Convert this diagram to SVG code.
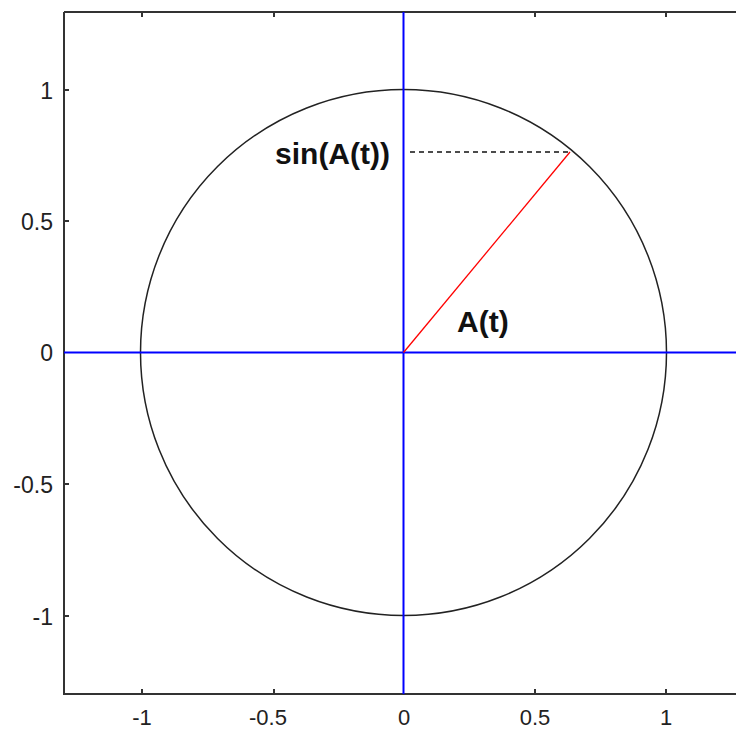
<svg xmlns="http://www.w3.org/2000/svg" width="736" height="731" viewBox="0 0 736 731">
<style>
.tick{font-family:"Liberation Sans",Arial,sans-serif;font-size:23px;fill:#222}
.xt{font-size:22px}
.lab{font-family:"Liberation Sans",Arial,sans-serif;font-size:30px;font-weight:bold;fill:#111}
.ax{stroke:#333;stroke-width:2;fill:none}
</style>
<rect width="736" height="731" fill="#fff"/>
<g id="frame">
<path class="ax" d="M64,12 H737 M64,12 V694 H737"/>
<path class="ax" stroke-width="1.5" d="M142,694 v-5 M274,694 v-5 M535,694 v-5 M666,694 v-5 M142,12 v5 M274,12 v5 M535,12 v5 M666,12 v5 M64,90 h5 M64,221 h5 M64,484 h5 M64,616 h5"/>
</g>
<g id="ticklabels">
<text class="tick xt" x="142" y="725" text-anchor="middle">-1</text>
<text class="tick xt" x="268" y="725" text-anchor="middle">-0.5</text>
<text class="tick xt" x="404" y="725" text-anchor="middle">0</text>
<text class="tick xt" x="535" y="725" text-anchor="middle">0.5</text>
<text class="tick xt" x="666" y="725" text-anchor="middle">1</text>
<text class="tick" x="53" y="99" text-anchor="end">1</text>
<text class="tick" x="53" y="230" text-anchor="end">0.5</text>
<text class="tick" x="53" y="361" text-anchor="end">0</text>
<text class="tick" x="53" y="493" text-anchor="end">-0.5</text>
<text class="tick" x="53" y="625" text-anchor="end">-1</text>
</g>
<g id="circle">
<circle cx="403.5" cy="352.5" r="263" fill="none" stroke="#222" stroke-width="1.5"/>
</g>
<g id="connectors">
<line x1="64" y1="352.5" x2="736" y2="352.5" stroke="#0000ff" stroke-width="2"/>
<line x1="403.5" y1="12" x2="403.5" y2="694" stroke="#0000ff" stroke-width="2"/>
<line x1="403.5" y1="352.5" x2="570" y2="152" stroke="#ff0000" stroke-width="1.3"/>
<line x1="410" y1="152" x2="570" y2="152" stroke="#111" stroke-width="1.5" stroke-dasharray="5,4"/>
</g>
<g id="labels">
<text class="lab" x="390" y="164" text-anchor="end">sin(A(t))</text>
<text class="lab" x="457" y="332">A(t)</text>
</g>
</svg>
